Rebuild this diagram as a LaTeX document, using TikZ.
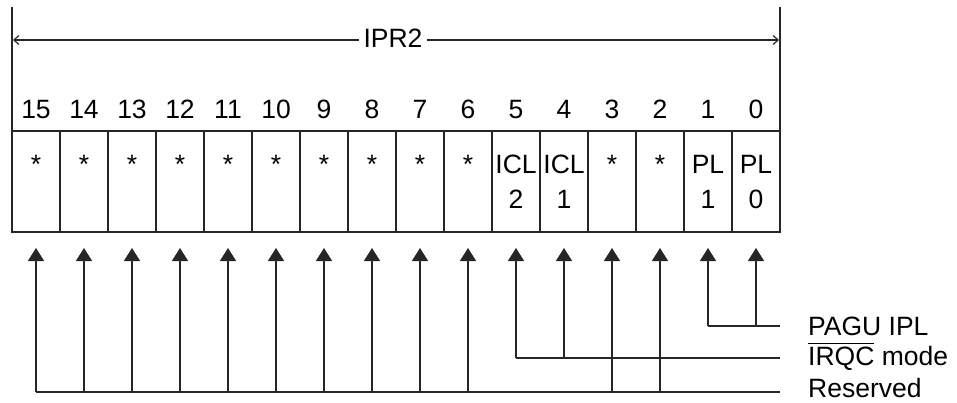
\documentclass[tikz,border=0pt]{standalone}
\usepackage{fontspec}
\setmainfont{Liberation Sans}
\usetikzlibrary{arrows.meta}
\newcommand\myovl[1]{\leavevmode\vbox{\hrule height 1.1pt\kern 2.6pt\hbox{#1}}}
\tikzset{
  ln/.style={line width=1.2pt, draw=black!85},
  cell/.style={ln, rectangle, minimum width=48pt, minimum height=101pt, inner sep=0pt},
  txt/.style={font=\fontsize{26.5pt}{30pt}\selectfont, inner sep=0pt, anchor=base},
  lbl/.style={font=\fontsize{26.5pt}{30pt}\selectfont, inner sep=0pt, anchor=base west},
  up/.style={ln, -{Triangle[length=13pt,width=16pt]}, shorten >=0pt},
}
\begin{document}
\begin{tikzpicture}[x=1pt,y=-1pt]
\useasboundingbox (0,0) rectangle (957,402);
% outer verticals
\coordinate (lt) at (12,7);
\coordinate (rt) at (780,7);
\coordinate (lb) at (12,131);
\coordinate (rb) at (780,131);
\draw[ln] (lt) -- (lb);
\draw[ln] (rt) -- (rb);
% IPR2 arrow
\node[txt] (ipr) at (393,47) {IPR2};
\coordinate (al) at (13,40);
\coordinate (ar) at (779,40);
\draw[ln, -{Straight Barb[length=5pt,width=9pt]}] (ipr.west |- al) ++(-4,0) -- (al);
\draw[ln, -{Straight Barb[length=5pt,width=9pt]}] (ipr.east |- ar) ++(4,0) -- (ar);
% cells, numbers
\foreach \i in {0,...,15} {
  \pgfmathsetmacro\xx{36+48*(15-\i)}
  \node[cell] (c\i) at (\xx,181.5) {};
  \node[txt] (n\i) at (\xx,118) {\i};
  \coordinate (tip\i) at (\xx,248);
}
% cell contents
\foreach \i in {15,14,13,12,11,10,9,8,7,6,3,2} {
  \node[txt] (s\i) at (c\i |- 0,173) {*};
}
\node[txt] (a5) at (c5 |- 0,173) {ICL};
\node[txt] (b5) at (c5 |- 0,208) {2};
\node[txt] (a4) at (c4 |- 0,173) {ICL};
\node[txt] (b4) at (c4 |- 0,208) {1};
\node[txt] (a1) at (c1 |- 0,173) {PL};
\node[txt] (b1) at (c1 |- 0,208) {1};
\node[txt] (a0) at (c0 |- 0,173) {PL};
\node[txt] (b0) at (c0 |- 0,208) {0};
% bus lines
\coordinate (pe) at (780,326);
\coordinate (ie) at (780,358);
\coordinate (re) at (780,392);
\draw[ln] (tip1 |- pe) -- (pe);
\draw[ln] (tip5 |- ie) -- (ie);
\draw[ln] (tip15 |- re) -- (re);
\foreach \i in {1,0} { \draw[up] (tip\i |- pe) -- (tip\i); }
\foreach \i in {5,4} { \draw[up] (tip\i |- ie) -- (tip\i); }
\foreach \i in {15,14,13,12,11,10,9,8,7,6,3,2} { \draw[up] (tip\i |- re) -- (tip\i); }
% labels
\node[lbl] (lp) at (808,335) {PAGU IPL};
\node[lbl] (li) at (808,365) {\myovl{IRQC} mode};
\node[lbl] (lr) at (808,397) {Reserved};
\end{tikzpicture}
\end{document}
